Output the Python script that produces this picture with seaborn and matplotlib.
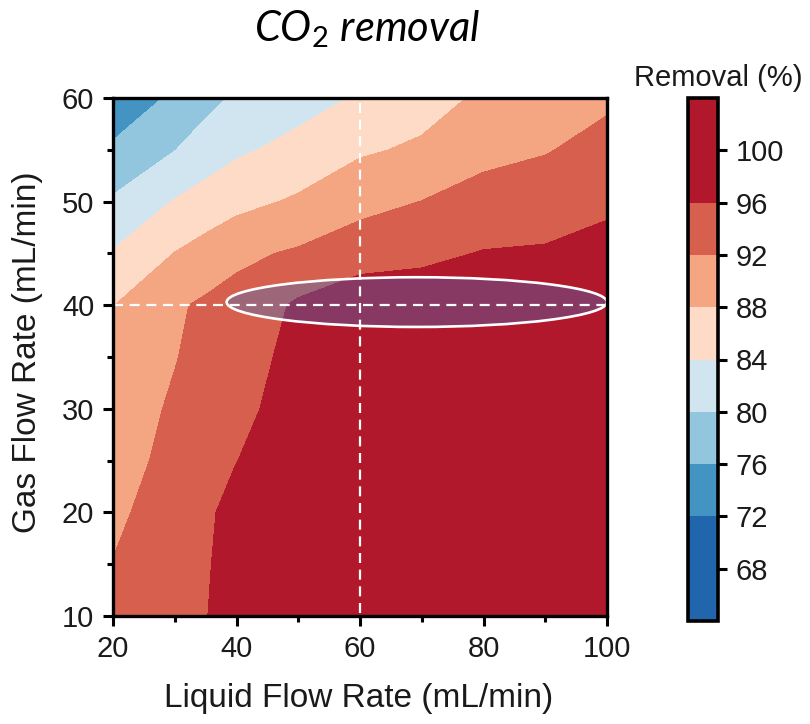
import numpy as np
import pandas as pd
import matplotlib
matplotlib.use("Agg")
import matplotlib.pyplot as plt
import seaborn as sns
from matplotlib.patches import Ellipse

# ---------------- data ----------------
liquid_rate = [20, 30, 35, 40, 50, 60, 70, 80, 90, 100]      # mL/min (x)
gas_rate = [10, 15, 20, 25, 30, 35, 40, 45, 50, 55, 60]       # mL/min (y)

# CO2 removal (%) for each liquid rate, listed from gas 10 -> 60
removal_l20 = [92.9, 92.08, 91.4, 90.7, 89.59, 88.76, 87.9, 84.3, 80.5, 76.7, 72.85]
removal_l30 = [94.6, 94.04, 93.48, 92.91, 92.6, 91.8, 91.5, 88.1, 84.24, 79.9, 76.8]
removal_l35 = [95.9, 95.7, 95.4, 95.0, 94.3, 93.5, 92.6, 89.6, 85.5, 82.0, 78.7]
removal_l40 = [97.3, 97.3, 97.2, 95.95, 94.9, 93.83, 93.3, 91.2, 86.79, 83.39, 80.6]
removal_l50 = [98.5, 98.4, 98.2, 98.0, 97.8, 97.5, 96.6, 92.5, 88.55, 85.18, 82.5]
removal_l60 = [99.5, 99.4, 99.3, 99.2, 99.0, 98.8, 98.4, 94.34, 90.67, 87.5, 84.4]
removal_l70 = [100.0, 100.0, 99.9, 99.8, 99.6, 99.3, 98.2, 95.14, 92.06, 88.58, 86.5]
removal_l80 = [100.3, 100.3, 100.2, 100.1, 99.9, 99.6, 98.5, 96.2, 93.44, 90.9, 88.6]
removal_l90 = [100.5, 100.5, 100.4, 100.3, 100.1, 99.8, 98.7, 96.42, 94.07, 91.76, 89.8]
removal_l100 = [100.6, 100.6, 100.5, 100.4, 100.2, 100.0, 99.0, 97.27, 95.29, 93.31, 91.33]

levels = [64, 72, 76, 80, 84, 88, 92, 96, 104]
cbar_ticks = [68, 72, 76, 80, 84, 88, 92, 96, 100]
band_colors = ["#2166ac", "#4393c3", "#92c5de", "#d1e5f0",
               "#fddbc7", "#f4a582", "#d6604d", "#b2182b"]

optimum_liquid = 60
optimum_gas = 40

# ---------------- style ----------------
sns.set_theme(style="ticks")
plt.rcParams["font.family"] = ["Liberation Sans", "DejaVu Sans"]
plt.rcParams["mathtext.fontset"] = "custom"
plt.rcParams["mathtext.it"] = "Lato:italic"
plt.rcParams["mathtext.rm"] = "Lato"

columns = [removal_l20, removal_l30, removal_l35, removal_l40, removal_l50,
           removal_l60, removal_l70, removal_l80, removal_l90, removal_l100]
df = pd.DataFrame({lr: col for lr, col in zip(liquid_rate, columns)}, index=gas_rate)

fig = plt.figure(figsize=(8.10, 7.24), dpi=100)
ax = fig.add_axes([113 / 810, 1 - 616 / 724, 494 / 810, 518 / 724])
cax = fig.add_axes([688 / 810, 1 - 621 / 724, 30 / 810, 523 / 724])

X, Y = np.meshgrid(df.columns.values.astype(float), df.index.values.astype(float))
cs = ax.contourf(X, Y, df.values, levels=levels, colors=band_colors, zorder=1)

ell = Ellipse((69.2, 40.3), width=61.6, height=4.8,
              facecolor=(59 / 255, 113 / 255, 201 / 255, 0.36),
              edgecolor="white", lw=1.9, zorder=3)
ax.add_patch(ell)

ax.plot([optimum_liquid, optimum_liquid], [10.3, 60.8], color="white", lw=1.6,
        dashes=(4.5, 3), clip_on=False, zorder=4)
ax.plot([20, 99.6], [optimum_gas, optimum_gas], color="white", lw=1.6,
        dashes=(4.5, 3), clip_on=False, zorder=4)

ax.set_xlim(20, 100)
ax.set_ylim(10, 60)
ax.set_xticks([20, 40, 60, 80, 100])
ax.set_xticks([30, 50, 70, 90], minor=True)
ax.set_yticks([10, 20, 30, 40, 50, 60])
ax.set_yticks([15, 25, 35, 45, 55], minor=True)
for s in ax.spines.values():
    s.set_linewidth(2.4)
    s.set_color("black")
    s.set_zorder(5)
ax.tick_params(which="major", length=7.5, width=2.2, labelsize=21, pad=6,
               colors="black", labelcolor="#1a1a1a")
ax.tick_params(which="minor", length=4.5, width=2.2, colors="black")

fig.text(359 / 810, 1 - 707 / 724, "Liquid Flow Rate (mL/min)", ha="center",
         va="baseline", fontsize=24, color="#1a1a1a")
fig.text(28 / 810, 1 - 352 / 724, "Gas Flow Rate (mL/min)", ha="center",
         va="center", rotation=90, fontsize=24, color="#1a1a1a")

fig.text(367 / 810, 1 - 41 / 724, r"$\mathit{CO_2\ removal}$", ha="center",
         va="baseline", fontsize=30, color="black")

cb = fig.colorbar(cs, cax=cax, spacing="proportional", ticks=cbar_ticks)
cb.outline.set_linewidth(2.6)
cb.outline.set_edgecolor("black")
cax.tick_params(length=6.5, width=2.2, labelsize=21, pad=6, colors="black",
                labelcolor="#1a1a1a")
cax.set_yticklabels([str(t) for t in cbar_ticks])
fig.text(718 / 810, 1 - 86 / 724, "Removal (%)", ha="center", va="baseline",
         fontsize=21, color="#1a1a1a")

fig.savefig("out.png", dpi=100)
